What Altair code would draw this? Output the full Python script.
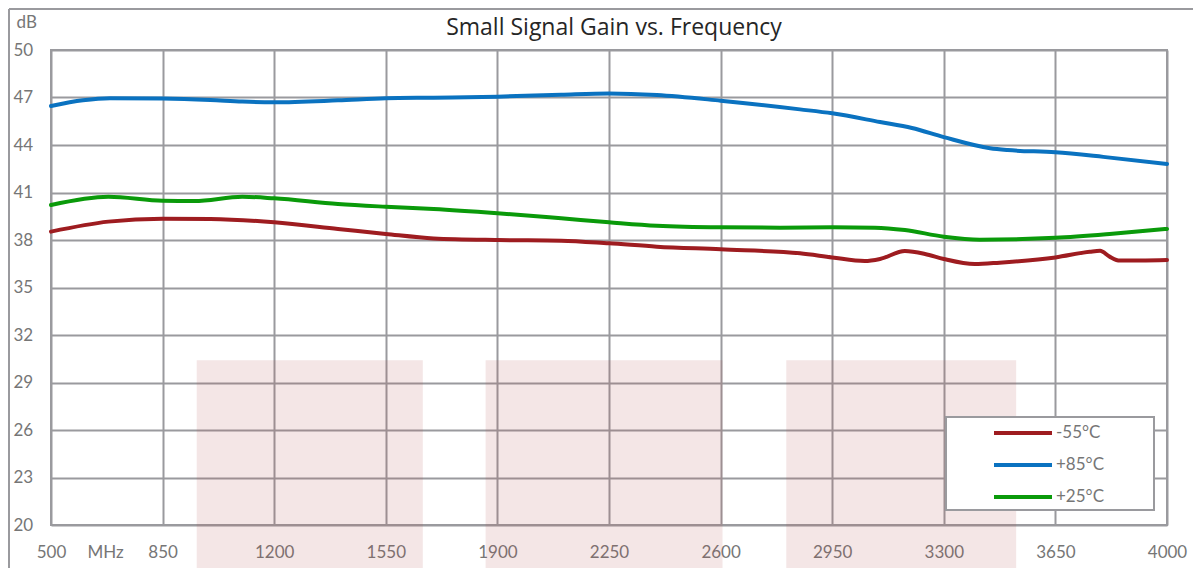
import altair as alt
import pandas as pd

# ---- data ----
series = ["-55°C", "+85°C", "+25°C"]
colors = ["#9E1C20", "#0A72C0", "#0A9A0A"]

freq_m55 = [500, 680, 850, 1000, 1200, 1400, 1550, 1700, 1900, 2100, 2250, 2400, 2600,
            2849, 2950, 3052, 3100, 3178, 3241, 3300, 3397, 3475, 3650, 3758, 3790,
            3820, 3852, 4000]
gain_m55 = [38.53, 39.16, 39.35, 39.33, 39.12, 38.70, 38.38, 38.10, 38.00, 37.96, 37.79,
            37.58, 37.41, 37.16, 36.90, 36.67, 36.80, 37.30, 37.12, 36.80, 36.48, 36.57,
            36.90, 37.26, 37.32, 36.95, 36.70, 36.74]

freq_p85 = [500, 600, 685, 850, 1000, 1100, 1200, 1400, 1550, 1700, 1900, 2100, 2250,
            2400, 2600, 2849, 2950, 3100, 3200, 3300, 3445, 3500, 3650, 3800, 4000]
gain_p85 = [46.46, 46.82, 46.95, 46.93, 46.84, 46.74, 46.70, 46.82, 46.95, 46.99, 47.05,
            47.18, 47.26, 47.16, 46.80, 46.25, 46.00, 45.45, 45.07, 44.50, 43.80, 43.68,
            43.54, 43.25, 42.80]

freq_p25 = [500, 680, 850, 950, 1100, 1200, 1400, 1550, 1700, 1900, 2100, 2250, 2400,
            2600, 2786, 2950, 3084, 3178, 3300, 3413, 3650, 3820, 4000]
gain_p25 = [40.21, 40.73, 40.48, 40.46, 40.73, 40.63, 40.27, 40.10, 39.96, 39.69, 39.37,
            39.12, 38.90, 38.80, 38.78, 38.80, 38.78, 38.63, 38.21, 38.02, 38.14, 38.38,
            38.70]

band_start = [957, 1863, 2806]
band_end = [1666, 2606, 3527]
band_top = [30.4, 30.4, 30.4]

x_ticks = [500, 850, 1200, 1550, 1900, 2250, 2600, 2950, 3300, 3650, 4000]
y_ticks = [20, 23, 26, 29, 32, 35, 38, 41, 44, 47, 50]

title_text = ["Small Signal Gain vs. Frequency"]
x_unit = "MHz"
y_unit = "dB"

# ---- tables ----
rows = []
for name, fs, gs in zip(series, [freq_m55, freq_p85, freq_p25], [gain_m55, gain_p85, gain_p25]):
    for f, g in zip(fs, gs):
        rows.append({"series": name, "freq": f, "gain": g})
lines_df = pd.DataFrame(rows)
band_df = pd.DataFrame({"x0": band_start, "x1": band_end, "top": band_top})
title_df = pd.DataFrame({"t": title_text})
one_df = pd.DataFrame({"a": [0]})

W, H = 1116, 475
GRID = "#9A9A9E"
LABEL = "#767676"
FONT = "Lato"

xs = alt.Scale(domain=[500, 4000], nice=False, zero=False)
ys = alt.Scale(domain=[20, 50], nice=False, zero=False)

xaxis = alt.Axis(values=x_ticks, format="d", title=x_unit, titleX=54, titleY=27,
                 titleAlign="center", titleBaseline="middle", titleFontSize=17,
                 titleFontWeight="normal", titleColor=LABEL, titleFont=FONT,
                 labelFontSize=17, labelColor=LABEL, labelFont=FONT, labelPadding=19,
                 labelFlush=False, ticks=False, tickSize=0, domain=False, grid=True,
                 gridColor=GRID, gridWidth=2, gridOpacity=1, labelOverlap=False)
yaxis = alt.Axis(values=y_ticks, format="d", title=y_unit, titleAngle=0, titleX=-35,
                 titleY=-28, titleAlign="left", titleBaseline="middle", titleFontSize=17,
                 titleFontWeight="normal", titleColor=LABEL, titleFont=FONT,
                 labelFontSize=17, labelColor=LABEL, labelFont=FONT, labelAlign="left",
                 labelBaseline="middle", labelPadding=38, ticks=False, tickSize=0,
                 domain=False, grid=True, gridColor=GRID, gridWidth=2, gridOpacity=1,
                 labelOverlap=False)

bands = alt.Chart(band_df).mark_rect(color="#B05050", opacity=0.14).encode(
    x=alt.X("x0:Q", scale=xs, axis=xaxis),
    x2="x1:Q",
    y=alt.Y("top:Q", scale=ys, axis=yaxis),
    y2=alt.value(520),
)

border_top = alt.Chart(one_df).mark_rule(color=GRID, strokeWidth=2).encode(
    x=alt.value(-42), x2=alt.value(1160), y=alt.value(-41))
border_left = alt.Chart(one_df).mark_rule(color=GRID, strokeWidth=2).encode(
    x=alt.value(-42), y=alt.value(-41), y2=alt.value(520))

legend_box = alt.Chart(one_df).mark_rect(fill="white", stroke=GRID, strokeWidth=2).encode(
    x=alt.value(895), x2=alt.value(1103), y=alt.value(367), y2=alt.value(460))

lines = alt.Chart(lines_df).mark_line(interpolate="monotone", strokeWidth=4, strokeCap="round").encode(
    x=alt.X("freq:Q", scale=xs, axis=xaxis),
    y=alt.Y("gain:Q", scale=ys, axis=yaxis),
    color=alt.Color("series:N", scale=alt.Scale(domain=series, range=colors), sort=series,
                    legend=alt.Legend(title=None, orient="none", legendX=941, legendY=375,
                                      symbolType="stroke", symbolSize=3364,
                                      symbolStrokeWidth=4, clipHeight=16, rowPadding=15,
                                      labelFontSize=17, labelColor=LABEL, labelFont=FONT,
                                      labelOffset=2, padding=0, symbolOffset=0)),
    detail="series:N",
)

title = alt.Chart(title_df).mark_text(fontSize=23, font="Open Sans", color="#262626",
                                      align="center", baseline="alphabetic").encode(
    text="t:N", x=alt.value(563), y=alt.value(-15))

chart = alt.layer(bands, border_top, border_left, legend_box, lines, title).properties(
    width=W, height=H,
    padding={"left": 43, "top": 42, "right": 26, "bottom": 43},
    autosize=alt.AutoSizeParams(type="none"),
).configure(font=FONT).configure_view(stroke=GRID, strokeWidth=2)

chart.save("out.html", embed_options={"renderer": "svg", "actions": False})
